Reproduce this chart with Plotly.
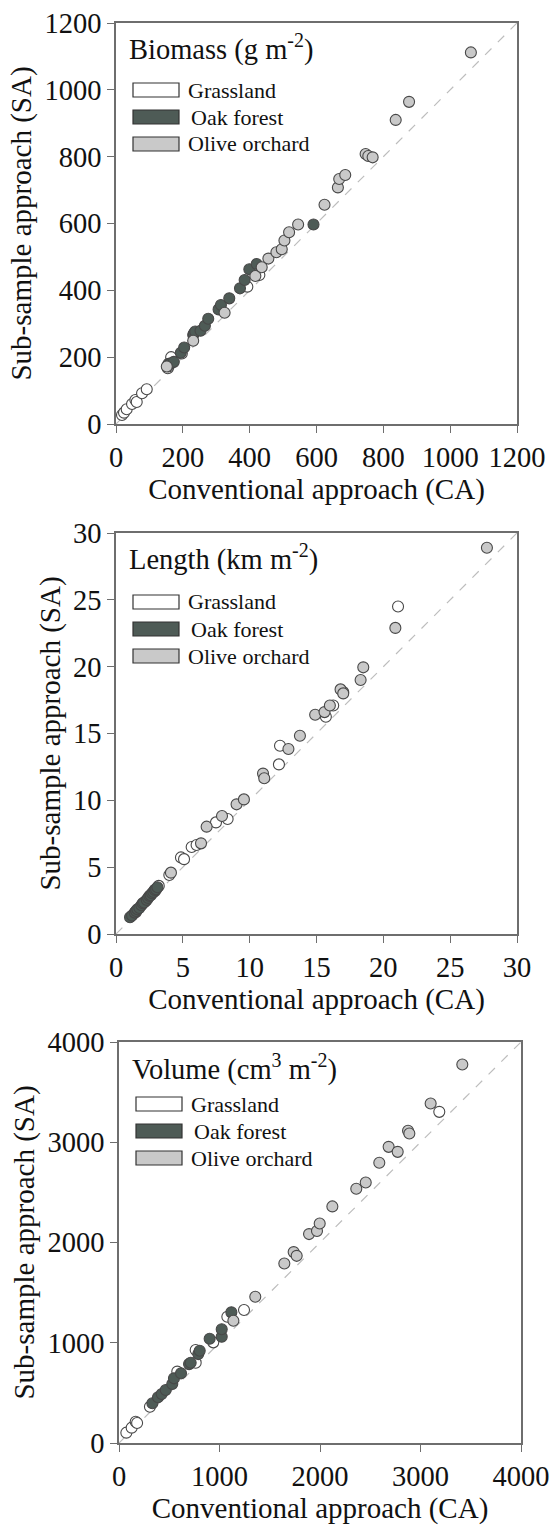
import plotly.graph_objects as go

W, H = 550, 1525
FONT = "Liberation Serif"

# ---------------- Data ----------------
# Biomass (g m-2)
bio_grass_x = [18, 24, 32, 48, 58, 62, 78, 92, 155, 157, 165, 197, 393, 429]
bio_grass_y = [27, 34, 44, 60, 72, 66, 92, 104, 167, 172, 200, 211, 411, 446]
bio_oak_x = [157, 160, 165, 173, 194, 204, 231, 233, 237, 253, 266, 276, 307, 314, 339, 371, 385, 399, 421, 591]
bio_oak_y = [180, 179, 182, 186, 213, 229, 266, 271, 277, 279, 294, 315, 343, 356, 376, 406, 431, 463, 479, 597]
bio_olive_x = [152, 231, 325, 417, 436, 456, 480, 496, 504, 518, 545, 624, 664, 668, 686, 747, 755, 768, 837, 877, 1062]
bio_olive_y = [172, 249, 333, 443, 469, 495, 514, 523, 549, 574, 597, 656, 708, 733, 745, 808, 802, 798, 910, 964, 1112]

# Length (km m-2)
len_grass_x = [1.5, 2.2, 2.9, 3.2, 3.99, 4.86, 5.09, 5.66, 6.03, 7.48, 8.35, 12.19, 12.27, 15.7, 16.25, 17.0, 21.1]
len_grass_y = [1.65, 2.45, 3.2, 3.6, 4.41, 5.73, 5.6, 6.51, 6.66, 8.35, 8.60, 12.69, 14.08, 16.25, 17.1, 18.1, 24.5]
len_oak_x = [1.05, 1.2, 1.4, 1.5, 1.6, 1.75, 1.9, 2.0, 2.1, 2.3, 2.4, 2.5, 2.6, 2.7, 2.8, 2.9, 3.0, 3.1]
len_oak_y = [1.25, 1.38, 1.6, 1.72, 1.85, 1.95, 2.15, 2.3, 2.35, 2.55, 2.7, 2.85, 2.9, 3.05, 3.15, 3.3, 3.35, 3.5]
len_olive_x = [4.11, 6.36, 6.78, 7.93, 9.02, 9.57, 11.0, 11.09, 12.9, 13.76, 14.9, 15.6, 16.0, 16.8, 17.0, 18.3, 18.5, 20.9, 27.75]
len_olive_y = [4.59, 6.78, 8.03, 8.83, 9.70, 10.07, 12.0, 11.65, 13.84, 14.83, 16.4, 16.6, 17.1, 18.3, 18.0, 19.0, 19.95, 22.9, 28.9]

# Volume (cm3 m-2)
vol_grass_x = [73, 126, 166, 180, 308, 580, 763, 763, 938, 1078, 1244, 3187]
vol_grass_y = [103, 153, 212, 200, 362, 712, 927, 801, 1004, 1259, 1326, 3303]
vol_oak_x = [332, 388, 425, 465, 530, 547, 617, 697, 713, 789, 803, 902, 1022, 1022, 1118]
vol_oak_y = [396, 456, 488, 528, 588, 645, 695, 787, 801, 887, 920, 1040, 1060, 1134, 1303]
vol_olive_x = [1138, 1356, 1645, 1738, 1768, 1891, 1970, 1997, 2123, 2361, 2455, 2590, 2683, 2773, 2876, 2889, 3101, 3416]
vol_olive_y = [1219, 1459, 1791, 1904, 1867, 2084, 2114, 2190, 2360, 2536, 2599, 2795, 2954, 2904, 3114, 3088, 3387, 3776]

bio_ticks = [0, 200, 400, 600, 800, 1000, 1200]
len_ticks = [0, 5, 10, 15, 20, 25, 30]
vol_ticks = [0, 1000, 2000, 3000, 4000]

categories = ["Grassland", "Oak forest", "Olive orchard"]
colors = {"Grassland": "#ffffff", "Oak forest": "#4e5b56", "Olive orchard": "#c9c9c9"}

panels = [
    dict(title="Biomass (g m<sup>-2</sup>)", ticks=bio_ticks,
         series=[(bio_grass_x, bio_grass_y), (bio_oak_x, bio_oak_y), (bio_olive_x, bio_olive_y)],
         box=(116, 23, 517, 424), leg=67),
    dict(title="Length (km m<sup>-2</sup>)", ticks=len_ticks,
         series=[(len_grass_x, len_grass_y), (len_oak_x, len_oak_y), (len_olive_x, len_olive_y)],
         box=(116, 533, 517, 934), leg=69),
    dict(title="Volume (cm<sup>3</sup> m<sup>-2</sup>)", ticks=vol_ticks,
         series=[(vol_grass_x, vol_grass_y), (vol_oak_x, vol_oak_y), (vol_olive_x, vol_olive_y)],
         box=(119, 1042, 521, 1443), leg=62),
]


def px(x):
    return x / W


def py(y):
    return 1 - y / H


fig = go.Figure()
shapes = []
annotations = []
layout = {}

for i, p in enumerate(panels, start=1):
    sfx = "" if i == 1 else str(i)
    xa, ya = "x" + sfx, "y" + sfx
    l, t, r, b = p["box"]
    tmax = p["ticks"][-1]

    # 1:1 line
    fig.add_trace(go.Scatter(x=[0, tmax], y=[0, tmax], mode="lines",
                             line=dict(color="#bdbdbd", width=1.2, dash="dash"),
                             xaxis=xa, yaxis=ya, showlegend=False, hoverinfo="skip"))
    for cat, (sx, sy) in zip(categories, p["series"]):
        fig.add_trace(go.Scatter(x=sx, y=sy, mode="markers", name=cat,
                                 marker=dict(size=11, color=colors[cat],
                                             line=dict(color="#484848", width=1.1)),
                                 xaxis=xa, yaxis=ya, showlegend=False, cliponaxis=False))

    axcommon = dict(showgrid=False, zeroline=False, showline=True, linecolor="#6e6e6e",
                    linewidth=1.5, mirror=True, ticks="outside", ticklen=7, tickwidth=1.3,
                    tickcolor="#6e6e6e", tickvals=p["ticks"], range=[0, tmax],
                    tickfont=dict(family=FONT, size=28.5, color="#111"), automargin=False)
    layout["xaxis" + sfx] = dict(axcommon, domain=[px(l), px(r)], anchor=ya,
                                 title=dict(text="Conventional approach (CA)", standoff=6,
                                            font=dict(family=FONT, size=29, color="#111")))
    layout["yaxis" + sfx] = dict(axcommon, domain=[py(b), py(t)], anchor=xa,
                                 title=dict(text="Sub-sample approach (SA)", standoff=4,
                                            font=dict(family=FONT, size=29, color="#111")))

    # panel title
    annotations.append(dict(x=px(l + 11), y=py(t + 25), xref="paper", yref="paper",
                            text=p["title"], showarrow=False, xanchor="left", yanchor="middle",
                            font=dict(family=FONT, size=28.5, color="#111")))
    # legend
    for k, cat in enumerate(categories):
        cy = t + p["leg"] + 27 * k
        shapes.append(dict(type="rect", xref="paper", yref="paper",
                           x0=px(l + 17), x1=px(l + 63), y0=py(cy - 7), y1=py(cy + 7),
                           fillcolor=colors[cat], line=dict(color="#333", width=1.2)))
        annotations.append(dict(x=px(l + 70 + (3 if k == 1 else 0)), y=py(cy),
                                xref="paper", yref="paper",
                                text=cat, showarrow=False, xanchor="left", yanchor="middle",
                                font=dict(family=FONT, size=22, color="#111")))

fig.update_layout(width=W, height=H, margin=dict(l=0, r=0, t=0, b=0),
                  paper_bgcolor="white", plot_bgcolor="white",
                  font=dict(family=FONT, color="#111"),
                  shapes=shapes, annotations=annotations, showlegend=False, **layout)

fig.write_html("out.html")
